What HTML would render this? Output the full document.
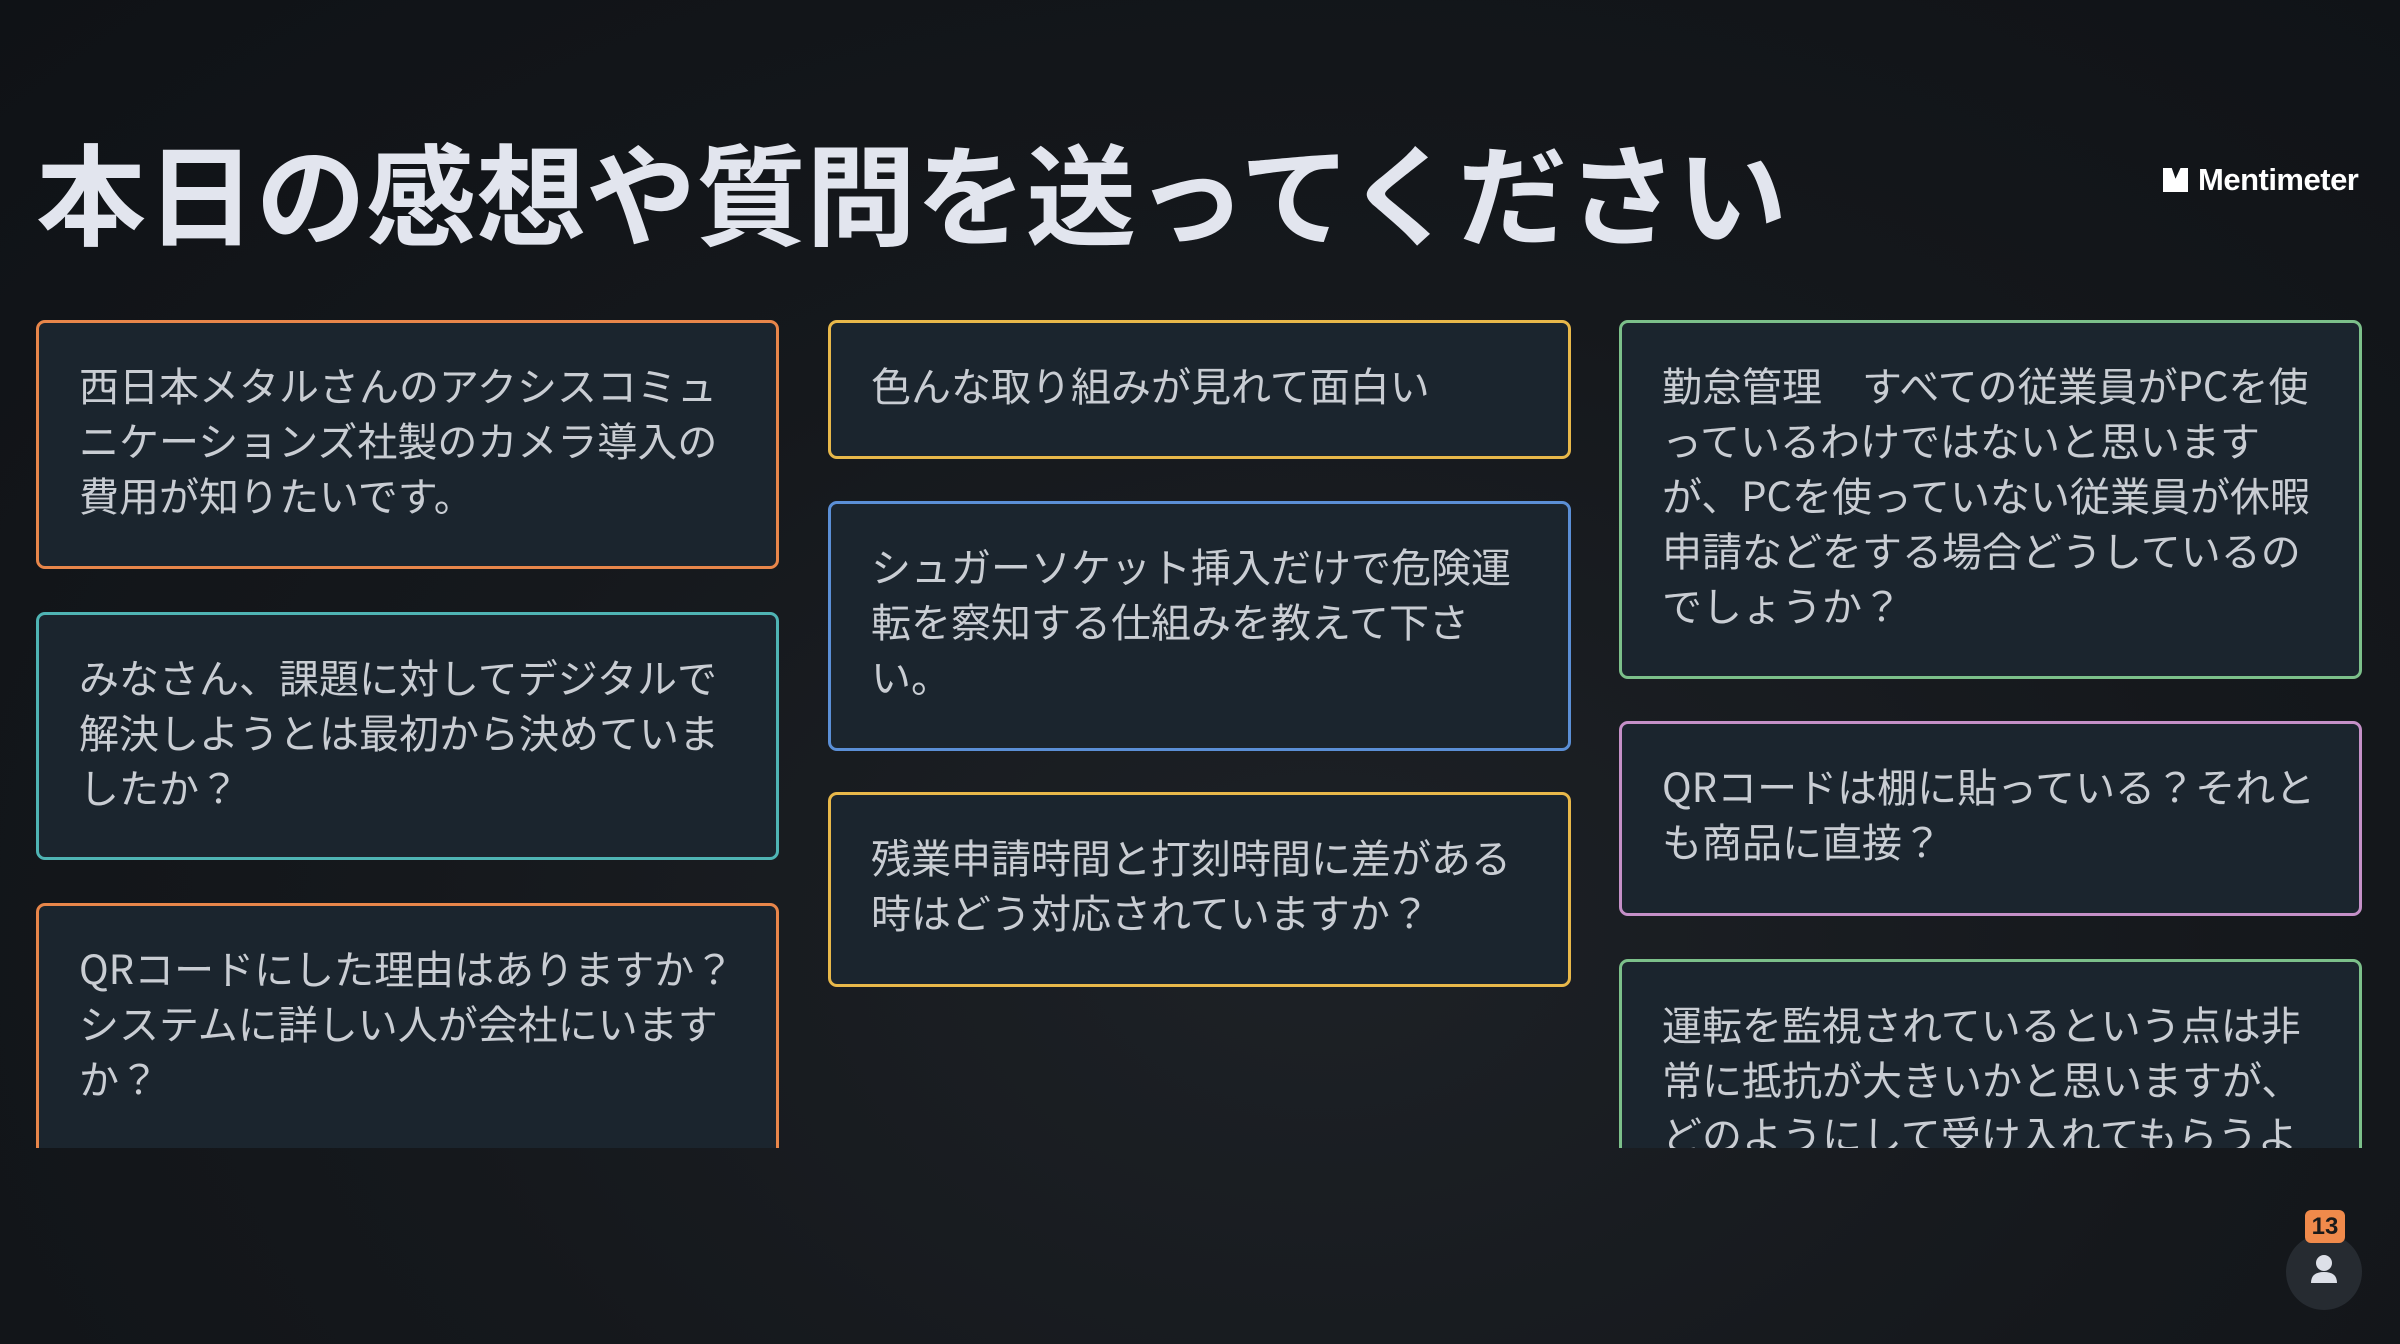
<!DOCTYPE html>
<html><head><meta charset="utf-8"><style>
html,body{margin:0;padding:0}
body{width:2400px;height:1344px;overflow:hidden;position:relative;
background:radial-gradient(ellipse at 55% 70%,#1d2126 0%,#15181c 50%,#0f1216 100%);
font-family:"Liberation Sans","Noto Sans CJK JP",sans-serif;}
.title{position:absolute;left:36px;top:130px;font-size:110px;font-weight:bold;color:#e2e5ee;white-space:nowrap;line-height:140px;letter-spacing:0px}
.logo{position:absolute;left:2163px;top:162px;color:#fff;font-size:31px;font-weight:bold;letter-spacing:-0.5px;display:flex;align-items:center;gap:10px}
.logo i{display:inline-block;width:25px;height:24px;background:#fff;clip-path:polygon(0 0,35% 0,50% 45%,70% 0,100% 0,100% 100%,0 100%)}
.clip{position:absolute;left:0;top:0;width:2400px;height:1148px;overflow:hidden}
.b{position:absolute;box-sizing:border-box;width:743px;border:3px solid;border-radius:9px;background:#1b252e;color:#c9cdd3;font-family:"Noto Sans CJK JP",sans-serif;font-size:40px;line-height:55px;padding:34px 40px 0;white-space:nowrap;letter-spacing:0px}
.c1{left:36px}.c2{left:828px}.c3{left:1619px}
.badge{position:absolute;left:2305px;top:1210px;width:40px;height:33px;background:#f08a4b;border-radius:6px;color:#1a1a1a;font-size:24px;font-weight:bold;text-align:center;line-height:33px;z-index:2}
.av{position:absolute;left:2286px;top:1234px;width:76px;height:76px;border-radius:50%;background:#262b31}
</style></head><body>
<div class="title">本日の感想や質問を送ってください</div>
<div class="logo"><i></i>Mentimeter</div>
<div class="clip">
<div class="b c1" style="top:320px;height:249px;border-color:#e8864a">西日本メタルさんのアクシスコミュ<br>ニケーションズ社製のカメラ導入の<br>費用が知りたいです。</div>
<div class="b c1" style="top:612px;height:248px;border-color:#4fb4b4">みなさん、課題に対してデジタルで<br>解決しようとは最初から決めていま<br>したか？</div>
<div class="b c1" style="top:903px;height:270px;border-color:#e8864a">QRコードにした理由はありますか？<br>システムに詳しい人が会社にいます<br>か？</div>
<div class="b c2" style="top:320px;height:139px;border-color:#e8b84a">色んな取り組みが見れて面白い</div>
<div class="b c2" style="top:501px;height:250px;border-color:#5b8fd6">シュガーソケット挿入だけで危険運<br>転を察知する仕組みを教えて下さ<br>い。</div>
<div class="b c2" style="top:792px;height:195px;border-color:#e8b84a">残業申請時間と打刻時間に差がある<br>時はどう対応されていますか？</div>
<div class="b c3" style="top:320px;height:359px;border-color:#7cc08a">勤怠管理　すべての従業員がPCを使<br>っているわけではないと思います<br>が、PCを使っていない従業員が休暇<br>申請などをする場合どうしているの<br>でしょうか？</div>
<div class="b c3" style="top:721px;height:195px;border-color:#c590c8">QRコードは棚に貼っている？それと<br>も商品に直接？</div>
<div class="b c3" style="top:959px;height:260px;border-color:#7cc08a">運転を監視されているという点は非<br>常に抵抗が大きいかと思いますが、<br>どのようにして受け入れてもらうよ</div>
</div>
<div class="av"><svg width="76" height="76" viewBox="0 0 76 76"><circle cx="38" cy="29" r="8" fill="#dde0e8"/><path d="M25 49 Q25 38 38 38 Q51 38 51 49 Z" fill="#dde0e8"/></svg></div>
<div class="badge">13</div>
</body></html>
